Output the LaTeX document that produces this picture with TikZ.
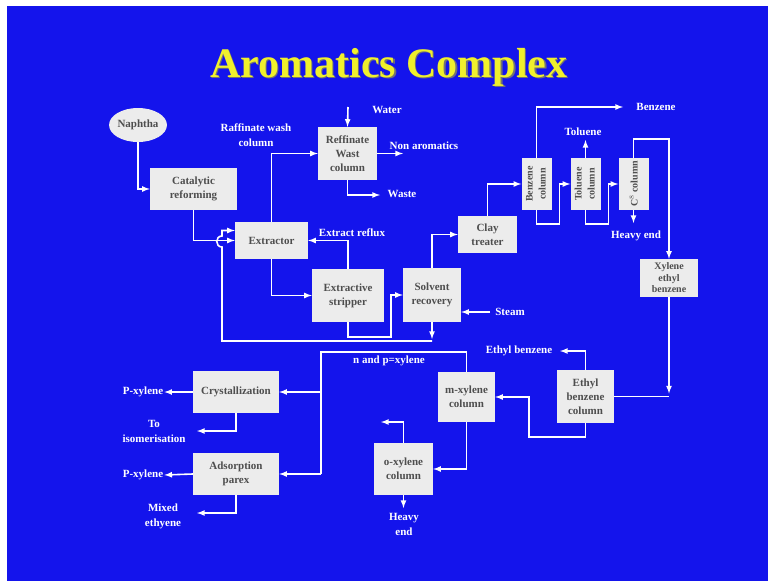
\documentclass[tikz,border=0pt]{standalone}
\usepackage{fontspec}
\setmainfont{Liberation Serif}
\usetikzlibrary{shapes.geometric,positioning}
\definecolor{slideblue}{RGB}{20,20,236}
\definecolor{titleyellow}{RGB}{240,240,44}
\definecolor{boxgray}{RGB}{236,236,236}
\definecolor{boxtext}{RGB}{78,78,78}

\begin{document}
\begin{tikzpicture}[x=1pt,y=-1pt,>=latex]
		 \tikzstyle{unit}=[draw=none,fill=boxgray,text=boxtext,font=\bfseries\fontsize{11}{14}\selectfont,align=center,inner sep=0pt]
		 \tikzstyle{colm}=[unit,font=\bfseries\fontsize{10}{13}\selectfont,minimum width=30pt,minimum height=52pt]
		 \tikzstyle{lbl}=[text=white,font=\bfseries\fontsize{11}{15}\selectfont,align=center,inner sep=1pt]
		 \tikzstyle{flow}=[draw=white,line width=1.6pt,->]
		 \tikzstyle{pipe}=[draw=white,line width=1.6pt]

		  \useasboundingbox (0,0) rectangle (768,581);
		  \fill[white] (0,0) rectangle (768,581);
		  \fill[slideblue] (7,6) rectangle (768,581);

		  \node[text=black!55,font=\bfseries\fontsize{42}{48}\selectfont,anchor=base] (shade) at (390.2,78.2) {Aromatics Complex};
		  \node[text=titleyellow,font=\bfseries\fontsize{42}{48}\selectfont,anchor=base] (title) at (389,77) {Aromatics Complex};

		  % units
		  \node[unit,ellipse,minimum width=48pt,minimum height=34pt] (naph) at (138,125) {Naphtha};
		  \node[unit,minimum width=87pt,minimum height=42pt] (cat)   at (193.5,189) {Catalytic\\reforming};
		  \node[unit,minimum width=73pt,minimum height=37pt] (ext)   at (271.5,240.5) {Extractor};
		  \node[unit,minimum width=59pt,minimum height=53pt] (ref)   at (347.5,153.5) {Reffinate\\Wast\\column};
		  \node[unit,minimum width=72pt,minimum height=53pt] (strip) at (348,295.5) {Extractive\\stripper};
		  \node[unit,minimum width=58pt,minimum height=54pt] (solv)  at (432,295) {Solvent\\recovery};
		  \node[unit,minimum width=59pt,minimum height=37pt] (clay)  at (487.5,234.5) {Clay\\treater};
		  \node[colm] (benz) at (536.5,184) {\rotatebox{90}{\begin{tabular}{@{}c@{}}Benzene\\column\end{tabular}}};
		  \node[colm] (tol)  [right of=benz,node distance=49pt] {\rotatebox{90}{\begin{tabular}{@{}c@{}}Toluene\\column\end{tabular}}};
		  \node[colm] (ccol) [right of=tol,node distance=48pt] {\rotatebox{90}{C$^{8}$ column}};
		  \node[unit,minimum width=58pt,minimum height=38pt,font=\bfseries\fontsize{10}{11.5}\selectfont] (xyl) at (669,278) {Xylene\\ethyl\\benzene};
		  \node[unit,minimum width=57pt,minimum height=53pt] (eth)   at (585.5,396.5) {Ethyl\\benzene\\column};
		  \node[unit,minimum width=57pt,minimum height=50pt] (mx)    at (466.5,397) {m-xylene\\column};
		  \node[unit,minimum width=59pt,minimum height=52pt] (ox)    at (403.5,469) {o-xylene\\column};
		  \node[unit,minimum width=86pt,minimum height=42pt] (cry)   at (236,392) {Crystallization};
		  \node[unit,minimum width=86pt,minimum height=42pt] (ads)   [below of=cry,node distance=82pt] {Adsorption\\parex};

		  % stream labels
		  \node[lbl] (rawash) at (256,135.5) {Raffinate wash\\column};
		  \node[lbl] (water)  at (387,110) {Water};
		  \node[lbl] (nonaro) at (424,146) {Non aromatics};
		  \node[lbl] (waste)  at (402,194) {Waste};
		  \node[lbl] (reflux) at (352,233) {Extract reflux};
		  \node[lbl] (steam)  at (510,312) {Steam};
		  \node[lbl] (bzlbl)  at (656,107) {Benzene};
		  \node[lbl] (tollbl) at (583,132) {Toluene};
		  \node[lbl] (heavya) at (636,236) {Heavy end};
		  \node[lbl] (eblbl)  at (519,351) {Ethyl benzene};
		  \node[lbl] (npxlbl) at (389,361) {n and p=xylene};
		  \node[lbl] (pxa)    at (143,392) {P-xylene};
		  \node[lbl] (pxb)    at (143,475) {P-xylene};
		  \node[lbl] (iso)    at (154,431.5) {To\\isomerisation};
		  \node[lbl] (mixed)  at (163,516) {Mixed\\ethyene};
		  \node[lbl] (heavyb) at (404,524.5) {Heavy\\end};

		  \coordinate (waterin) at (348,107);
		  \coordinate (naout)   at (403,153);
		  \coordinate (wasteout) at (380,195);
		  \coordinate (steamin) at (490,312);
		  \coordinate (bzout)   at (623,107);
		  \coordinate (tolout)  at (586,140);
		  \coordinate (heavyout) at (634,223);
		  \coordinate (ebout)   at (560,351);
		  \coordinate (npx)     at (321,352);
		  \coordinate (isoout)  at (197,431);
		  \coordinate (mixout)  at (197,513);
		  \coordinate (oxout)   at (381,422);
		  \coordinate (oxheavy) at (404,508);
		  \coordinate (recyc)   at (432,341);
		  \coordinate (xyturn)  at (xyl.south |- eth.east);

		  % streams
		  \draw[flow] (naph.south) |- (cat.west);
		  \draw[flow] (cat.south) |- (ext.west);
		  \draw[flow] (recyc) -| (222,247) .. controls (215,247) and (215,236) .. (222,236) |- ([yshift=10pt]ext.west);
		  \draw[flow] (solv.south) -- ([yshift=2pt]recyc);
		  \draw[flow] (ext.north) |- (ref.west);
		  \draw[flow] (waterin) -- (ref.north);
		  \draw[flow] (ref.east) -- (ref.east -| naout);
		  \draw[flow] (ref.south) |- (wasteout);
		  \draw[flow] (ext.south) |- (strip.west);
		  \draw[flow] (strip.north) |- (ext.east);
		  \draw[flow] (strip.south) -- ++(0,15) -| ([xshift=-12pt]solv.west) -- (solv.west);
		  \draw[flow] (steamin) -- (steamin -| solv.east);
		  \draw[flow] (solv.north) |- (clay.west);
		  \draw[flow] (clay.north) |- (benz.west);
		  \draw[flow] (benz.north) |- (bzout);
		  \draw[flow] (benz.south) -- ++(0,14) -| ([xshift=-11pt]tol.west) -- (tol.west);
		  \draw[flow] (tol.north) -- (tol.north |- tolout);
		  \draw[flow] (tol.south) -- ++(0,14) -| ([xshift=-10pt]ccol.west) -- (ccol.west);
		  \draw[flow] (ccol.south) -- (ccol.south |- heavyout);
		  \draw[flow] (ccol.north) -- ++(0,-19) -| (xyl.north);
		  \draw[flow] (xyl.south) -- ([yshift=3pt]xyturn);
		  \draw[pipe] (xyturn) -- (eth.east);
		  \draw[flow] (eth.north) |- (ebout);
		  \draw[flow] (eth.south) -- ++(0,14) -| ([xshift=34pt]mx.east) -- (mx.east);
		  \draw[pipe] (mx.north) |- (npx) -- (npx |- ads.east);
		  \draw[flow] (npx |- cry.east) -- (cry.east);
		  \draw[flow] (npx |- ads.east) -- (ads.east);
		  \draw[flow] (cry.west) -- (pxa.east);
		  \draw[flow] (ads.west) -- (pxb.east);
		  \draw[flow] (cry.south) |- (isoout);
		  \draw[flow] (ads.south) |- (mixout);
		  \draw[flow] (mx.south) |- (ox.east);
		  \draw[flow] (ox.north) |- (oxout);
		  \draw[flow] (ox.south) -- (ox.south |- oxheavy);

		\end{tikzpicture}
\end{document}
